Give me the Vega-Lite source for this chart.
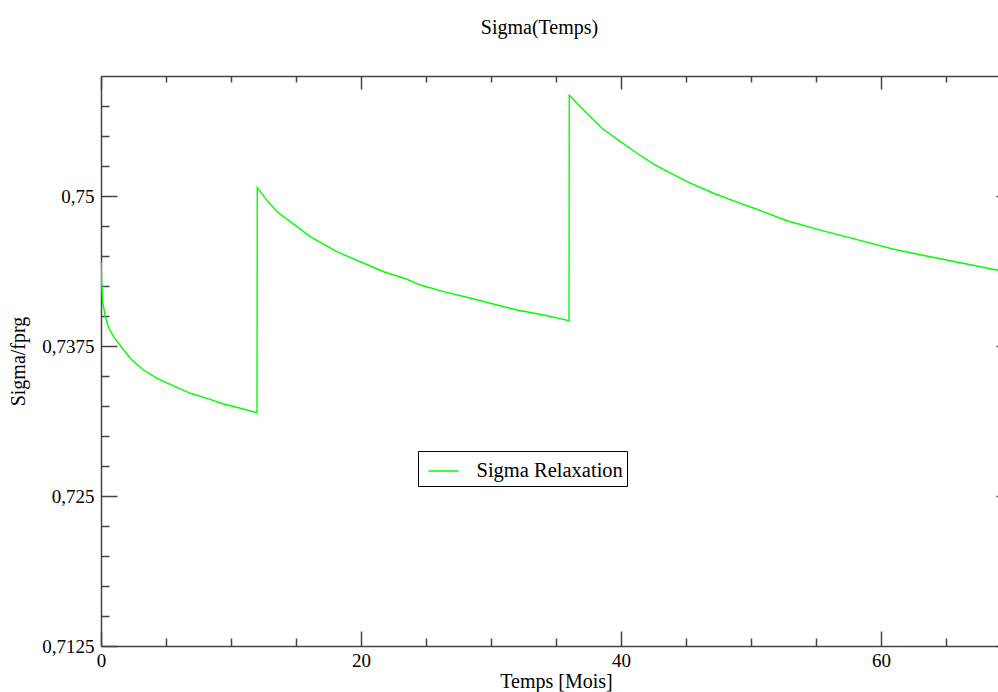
{
  "$schema": "https://vega.github.io/schema/vega-lite/v6.json",
  "width": 897,
  "height": 570,
  "autosize": {"type": "none"},
  "padding": {"left": 101, "top": 76, "right": 0, "bottom": 46},
  "background": "#ffffff",
  "title": {"text": "Sigma(Temps)", "font": "Liberation Serif", "fontSize": 20, "fontWeight": "normal", "color": "#000000", "anchor": "middle", "offset": 37, "dx": -10},
  "config": {
    "view": {"stroke": null},
    "axis": {
      "grid": false,
      "labelFont": "Liberation Serif",
      "labelFontSize": 19,
      "labelColor": "#000000",
      "titleFont": "Liberation Serif",
      "titleFontSize": 20,
      "titleFontWeight": "normal",
      "titleColor": "#000000",
      "domainColor": "#444444",
      "domainWidth": 1.5,
      "tickColor": "#444444",
      "tickWidth": 1.5,
      "labelFlush": false,
      "labelOverlap": false
    }
  },
  "data": {
    "values": [
      {"t": 0, "v": 0.7445},
      {"t": 0.05, "v": 0.7428},
      {"t": 0.12, "v": 0.7413},
      {"t": 0.33, "v": 0.73994},
      {"t": 0.6, "v": 0.739},
      {"t": 0.97, "v": 0.73828},
      {"t": 1.74, "v": 0.73717},
      {"t": 2.38, "v": 0.73633},
      {"t": 3.28, "v": 0.7355},
      {"t": 4.31, "v": 0.73481},
      {"t": 5.58, "v": 0.73417},
      {"t": 6.87, "v": 0.73356},
      {"t": 8.15, "v": 0.73314},
      {"t": 9.43, "v": 0.73267},
      {"t": 10.72, "v": 0.73231},
      {"t": 12.0, "v": 0.73194},
      {"t": 12.02, "v": 0.7507},
      {"t": 12.64, "v": 0.7498},
      {"t": 13.54, "v": 0.74869},
      {"t": 14.56, "v": 0.74786},
      {"t": 16.1, "v": 0.74661},
      {"t": 18.15, "v": 0.74536},
      {"t": 19.95, "v": 0.74452},
      {"t": 21.74, "v": 0.74369},
      {"t": 23.54, "v": 0.74306},
      {"t": 24.56, "v": 0.74258},
      {"t": 26.35, "v": 0.74203},
      {"t": 28.15, "v": 0.74156},
      {"t": 29.95, "v": 0.74106},
      {"t": 32.0, "v": 0.7405},
      {"t": 34.05, "v": 0.74008},
      {"t": 36.0, "v": 0.73961},
      {"t": 36.02, "v": 0.7584},
      {"t": 36.87, "v": 0.75744},
      {"t": 38.54, "v": 0.75564},
      {"t": 39.95, "v": 0.75453},
      {"t": 41.23, "v": 0.75356},
      {"t": 42.64, "v": 0.75258},
      {"t": 45.08, "v": 0.75119},
      {"t": 47.12, "v": 0.75023},
      {"t": 49.18, "v": 0.74939},
      {"t": 50.2, "v": 0.749},
      {"t": 52.77, "v": 0.74794},
      {"t": 55.33, "v": 0.74716},
      {"t": 58.4, "v": 0.7463},
      {"t": 60.97, "v": 0.74556},
      {"t": 63.5, "v": 0.745},
      {"t": 66.1, "v": 0.74444},
      {"t": 68.9, "v": 0.74383},
      {"t": 70, "v": 0.7436}
    ]
  },
  "layer": [
    {
      "mark": {"type": "line", "strokeWidth": 1.4, "clip": true},
      "encoding": {
        "x": {
          "field": "t", "type": "quantitative",
          "scale": {"domain": [0, 70], "range": [0, 910], "nice": false, "zero": false},
          "axis": {"orient": "bottom", "values": [0, 20, 40, 60], "tickSize": -15, "labelPadding": 20, "title": "Temps [Mois]", "titlePadding": 1}
        },
        "y": {
          "field": "v", "type": "quantitative",
          "scale": {"domain": [0.7125, 0.76], "nice": false, "zero": false},
          "axis": {"orient": "left", "values": [0.7125, 0.725, 0.7375, 0.75], "tickSize": -16, "labelPadding": 23, "format": ".4~f", "labelExpr": "replace(datum.label, '.', ',')", "title": "Sigma/fprg", "titlePadding": 13}
        },
        "color": {
          "datum": "Sigma Relaxation", "type": "nominal",
          "scale": {"range": ["#00ff00"]},
          "legend": {
            "orient": "none", "legendX": 317, "legendY": 375,
            "title": null,
            "strokeColor": "#000000", "fillColor": "#ffffff",
            "padding": 4,
            "symbolType": "stroke", "symbolSize": 900, "symbolStrokeWidth": 1.5, "symbolOffset": 5.5,
            "labelOffset": 17, "labelFont": "Liberation Serif", "labelFontSize": 20.5, "labelColor": "#000000", "labelLimit": 400
          }
        }
      }
    },
    {
      "mark": {"type": "line", "opacity": 0},
      "encoding": {
        "x": {
          "field": "t", "type": "quantitative",
          "scale": {"domain": [0, 70], "range": [0, 910], "nice": false, "zero": false},
          "axis": {"orient": "bottom", "values": [5, 10, 15, 25, 30, 35, 45, 50, 55, 65], "tickSize": -8, "labels": false, "domain": false, "title": null}
        },
        "y": {
          "field": "v", "type": "quantitative",
          "scale": {"domain": [0.7125, 0.76], "nice": false, "zero": false},
          "axis": {"orient": "left", "values": [0.715, 0.7175, 0.72, 0.7225, 0.7275, 0.73, 0.7325, 0.735, 0.74, 0.7425, 0.745, 0.7475, 0.7525, 0.755, 0.7575], "tickSize": -8, "labels": false, "domain": false, "title": null}
        }
      }
    },
    {
      "mark": {"type": "line", "opacity": 0},
      "encoding": {
        "x": {
          "field": "t", "type": "quantitative",
          "scale": {"domain": [0, 70], "range": [0, 910], "nice": false, "zero": false},
          "axis": {"orient": "top", "values": [0, 20, 40, 60], "tickSize": -13, "labels": false, "domain": true, "title": null}
        },
        "y": {
          "field": "v", "type": "quantitative",
          "scale": {"domain": [0.7125, 0.76], "nice": false, "zero": false},
          "axis": {"orient": "right", "values": [0.7125, 0.725, 0.7375, 0.75], "tickSize": -15, "offset": 13, "labels": false, "domain": false, "title": null}
        }
      }
    },
    {
      "mark": {"type": "line", "opacity": 0},
      "encoding": {
        "x": {
          "field": "t", "type": "quantitative",
          "scale": {"domain": [0, 70], "range": [0, 910], "nice": false, "zero": false},
          "axis": {"orient": "top", "values": [5, 10, 15, 25, 30, 35, 45, 50, 55, 65], "tickSize": -6, "labels": false, "domain": false, "title": null}
        },
        "y": {
          "field": "v", "type": "quantitative",
          "scale": {"domain": [0.7125, 0.76], "nice": false, "zero": false},
          "axis": null
        }
      }
    }
  ],
  "resolve": {"axis": {"x": "independent", "y": "independent"}}
}
